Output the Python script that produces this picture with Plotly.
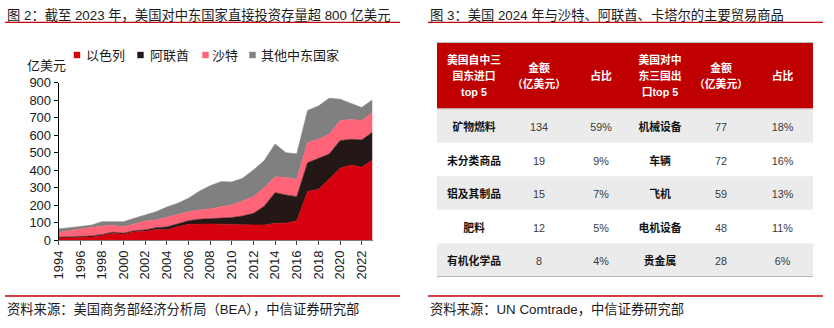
import plotly.graph_objects as go

# ---------------- data ----------------
years = list(range(1994, 2024))
israel = [13, 15, 17, 19, 26, 40, 34, 49, 52, 61, 60, 78, 91, 93, 93, 92, 92, 90, 88, 87,
          97, 98, 112, 278, 291, 349, 411, 430, 417, 459]
uae = [4, 5, 6, 5, 6, 6, 6, 6, 7, 11, 16, 17, 21, 27, 30, 34, 38, 49, 66, 108,
       175, 161, 137, 165, 177, 144, 158, 147, 156, 158]
saudi = [29, 35, 40, 45, 50, 40, 38, 38, 51, 44, 55, 50, 51, 53, 56, 66, 72, 86, 95, 105,
         91, 99, 100, 115, 109, 113, 114, 114, 110, 114]
others = [19, 17, 17, 17, 24, 21, 28, 33, 35, 47, 59, 66, 77, 107, 133, 143, 131, 129, 153, 155,
          187, 142, 144, 183, 190, 205, 123, 92, 75, 71]
series_names = ["以色列", "阿联酋", "沙特", "其他中东国家"]
x_tick_years = list(range(1994, 2023, 2))
y_ticks = [0, 100, 200, 300, 400, 500, 600, 700, 800, 900]

table_header = ["美国自中三<br>国东进口<br>top 5", "金额<br>（亿美元）", "占比",
                "美国对中<br>东三国出<br>口top 5", "金额<br>（亿美元）", "占比"]
import_goods = ["矿物燃料", "未分类商品", "铝及其制品", "肥料", "有机化学品"]
import_values = [134, 19, 15, 12, 8]
import_shares = ["59%", "9%", "7%", "5%", "4%"]
export_goods = ["机械设备", "车辆", "飞机", "电机设备", "贵金属"]
export_values = [77, 72, 59, 48, 28]
export_shares = ["18%", "16%", "13%", "11%", "6%"]

title_left = "图 2：截至 2023 年，美国对中东国家直接投资存量超 800 亿美元"
title_right = "图 3：美国 2024 年与沙特、阿联酋、卡塔尔的主要贸易商品"
source_left = "资料来源：美国商务部经济分析局（BEA），中信证券研究部"
source_right = "资料来源：UN Comtrade，中信证券研究部"
unit_label = "亿美元"

# ---------------- style ----------------
W, H = 834, 328
FONT = "Liberation Sans, Noto Sans CJK SC, sans-serif"
TXT = "#1a1a1a"
colors = ["#D7000F", "#231815", "#FF6479", "#808080"]
RED_LINE = "#C8000A"


def px(x):
    return x / W


def py(y):
    return 1 - y / H


fig = go.Figure()

# ---------------- stacked area ----------------
for name, vals, c in zip(series_names, [israel, uae, saudi, others], colors):
    fig.add_trace(go.Scatter(
        x=years, y=vals, name=name, stackgroup="one", mode="lines",
        line=dict(color=c, width=0.6), fillcolor=c, showlegend=False,
        hoverinfo="skip", xaxis="x", yaxis="y"))

fig.update_layout(
    template="none",
    xaxis=dict(domain=[px(58.7), px(372.5)], range=[1994, 2023], tickmode="array",
               tickvals=x_tick_years, ticktext=[str(v) for v in x_tick_years],
               tickangle=-90, ticks="outside", ticklen=4, tickcolor="#404040",
               showline=True, linecolor="#808080", linewidth=1, showgrid=False,
               zeroline=False, tickfont=dict(family=FONT, size=13, color=TXT),
               anchor="y", fixedrange=True, automargin=False),
    yaxis=dict(domain=[py(240.3), py(82.7)], range=[0, 900], tickmode="array",
               tickvals=y_ticks, ticks="outside", ticklen=4, tickcolor="#000000",
               showline=True, linecolor="#000000", linewidth=1, showgrid=False,
               zeroline=False, tickfont=dict(family=FONT, size=13, color=TXT),
               anchor="x", fixedrange=True, automargin=False),
)

# custom legend
legend_sq_x = [77, 140.5, 205.5, 252.5]
legend_txt_x = [84, 148, 210, 259]
for name, c, sx, tx in zip(series_names, colors, legend_sq_x, legend_txt_x):
    fig.add_shape(type="rect", xref="paper", yref="paper",
                  x0=px(sx - 3.2), x1=px(sx + 3.2), y0=py(58.2), y1=py(51.8),
                  fillcolor=c, line=dict(width=0))
    fig.add_annotation(x=px(tx), y=py(55), xref="paper", yref="paper", text=name,
                       showarrow=False, xanchor="left", yanchor="middle",
                       font=dict(family=FONT, size=13, color=TXT))

fig.add_annotation(x=px(46), y=py(65), xref="paper", yref="paper", text=unit_label,
                   showarrow=False, xanchor="center", yanchor="middle",
                   font=dict(family=FONT, size=13, color=TXT))

# ---------------- titles / sources ----------------
for t, x0 in [(title_left, 5), (title_right, 428)]:
    fig.add_annotation(x=px(x0), y=py(15), xref="paper", yref="paper", text=t,
                       showarrow=False, xanchor="left", yanchor="middle",
                       font=dict(family=FONT, size=13.3, color=TXT))
for t, x0 in [(source_left, 5), (source_right, 428)]:
    fig.add_annotation(x=px(x0), y=py(309.5), xref="paper", yref="paper", text=t,
                       showarrow=False, xanchor="left", yanchor="middle",
                       font=dict(family=FONT, size=13.3, color=TXT))
for x0, x1 in [(5, 400), (428, 823)]:
    for yy in [22.3, 296]:
        fig.add_shape(type="line", xref="paper", yref="paper", x0=px(x0), x1=px(x1),
                      y0=py(yy), y1=py(yy), line=dict(color=RED_LINE, width=1.3))

# ---------------- table (axes x2/y2 in table-local pixels) ----------------
T_X0, T_X1, T_Y0, T_Y1 = 437, 813, 42, 277
fig.update_layout(
    xaxis2=dict(domain=[px(T_X0), px(T_X1)], range=[0, T_X1 - T_X0], visible=False,
                anchor="y2", fixedrange=True, automargin=False),
    yaxis2=dict(domain=[py(T_Y1), py(T_Y0)], range=[T_Y1 - T_Y0, 0], visible=False,
                anchor="x2", fixedrange=True, automargin=False),
)
col_centers = [37, 102, 164, 223, 284, 345.5]
header_h = 67
row_h = (T_Y1 - T_Y0 - header_h) / len(import_goods)
tw = T_X1 - T_X0

# header background
fig.add_shape(type="rect", xref="x2", yref="y2", x0=0, x1=tw, y0=0, y1=header_h,
              fillcolor="#C00000", line=dict(width=0), layer="below")
# row backgrounds
for i in range(len(import_goods)):
    if i % 2 == 0:
        fig.add_shape(type="rect", xref="x2", yref="y2", x0=0, x1=tw,
                      y0=header_h + i * row_h, y1=header_h + (i + 1) * row_h,
                      fillcolor="#EBEBEB", line=dict(width=0), layer="below")
# borders
for yy, col, wd in [(0, "#BFBFBF", 2), (header_h, "#D9D9D9", 1.5),
                    (T_Y1 - T_Y0, "#A6A6A6", 1.5)]:
    fig.add_shape(type="line", xref="x2", yref="y2", x0=0, x1=tw, y0=yy, y1=yy,
                  line=dict(color=col, width=wd))

# header text
hx, hy, ht = [], [], []
for cx, label in zip(col_centers, table_header):
    lines = label.split("<br>")
    n = len(lines)
    for k, ln in enumerate(lines):
        hx.append(cx)
        hy.append(header_h / 2 + 2 + (k - (n - 1) / 2) * 16.2)
        ht.append("<b>" + ln + "</b>")
fig.add_trace(go.Scatter(x=hx, y=hy, text=ht, mode="text", xaxis="x2", yaxis="y2",
                         textposition="middle center", showlegend=False, hoverinfo="skip",
                         cliponaxis=False,
                         textfont=dict(family=FONT, size=10.8, color="#FFFFFF")))

# body text
columns = [import_goods, import_values, import_shares, export_goods, export_values, export_shares]
bold_cols = [True, False, False, True, False, False]
bx, by, bt, bc = [], [], [], []
for cx, colvals, bold in zip(col_centers, columns, bold_cols):
    for i, v in enumerate(colvals):
        bx.append(cx)
        by.append(header_h + (i + 0.5) * row_h + 2.5)
        bt.append(f"<b>{v}</b>" if bold else str(v))
        bc.append("#111111" if bold else "#3a3a3a")
fig.add_trace(go.Scatter(x=bx, y=by, text=bt, mode="text", xaxis="x2", yaxis="y2",
                         textposition="middle center", showlegend=False, hoverinfo="skip",
                         cliponaxis=False,
                         textfont=dict(family=FONT, size=10.8, color=bc)))

fig.update_layout(
    width=W, height=H, autosize=False,
    margin=dict(l=0, r=0, t=0, b=0, pad=0, autoexpand=False),
    paper_bgcolor="white", plot_bgcolor="rgba(0,0,0,0)",
    showlegend=False,
)

fig.write_html("out.html", config={"displayModeBar": False})
